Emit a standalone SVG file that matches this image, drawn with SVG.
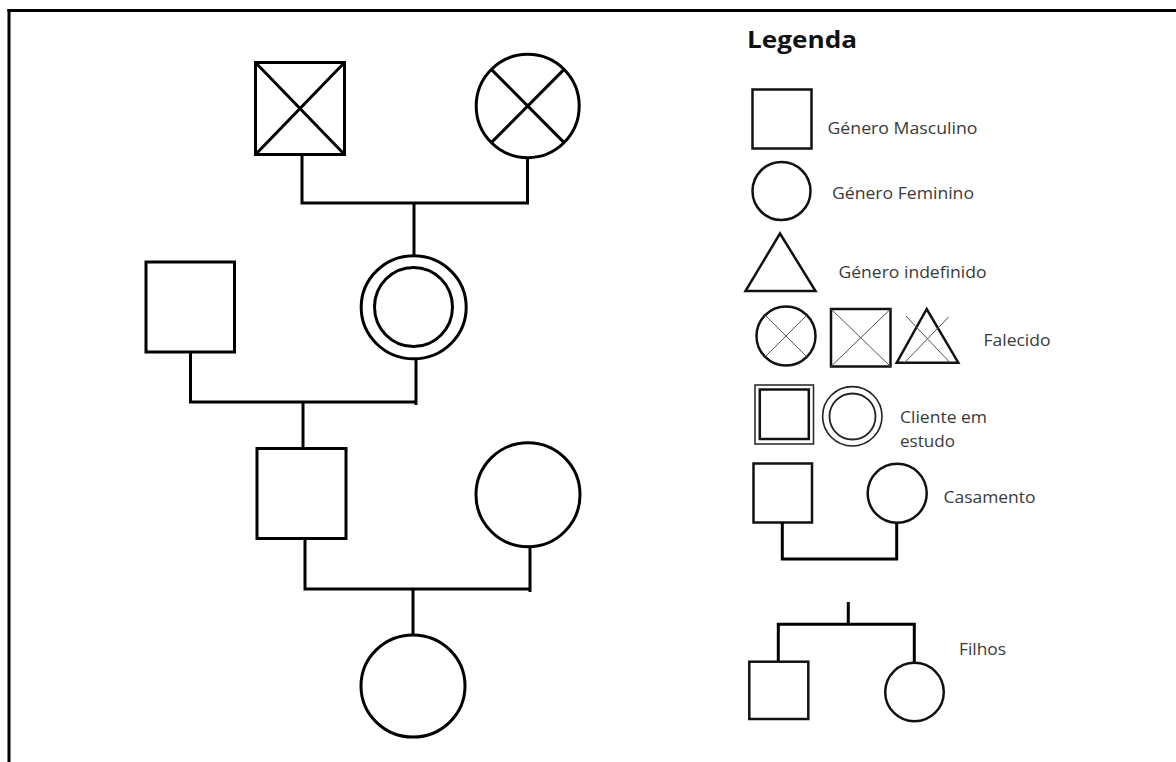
<svg xmlns="http://www.w3.org/2000/svg" width="1176" height="762" viewBox="0 0 1176 762">
  <style>
    .ln { fill: none; stroke: #000; stroke-width: 3; stroke-linejoin: miter; }
    .shape { fill: #fff; stroke: #000; stroke-width: 3; }
    .lg { fill: #fff; stroke: #111; stroke-width: 2.5; }
    .thin { fill: none; stroke: #555; stroke-width: 1; }
    .txt { font-family: "Open Sans", "Liberation Sans", sans-serif; font-size: 16px; fill: #3a3a3a; }
    .title { font-family: "Open Sans", "Liberation Sans", sans-serif; font-size: 23px; font-weight: bold; fill: #111; }
  </style>

  <rect width="1176" height="762" fill="#fff"/>

  <!-- frame -->
  <g id="frame">
    <line x1="7.5" y1="10.5" x2="1176" y2="10.5" stroke="#000" stroke-width="3"/>
    <line x1="9" y1="9" x2="9" y2="762" stroke="#000" stroke-width="3"/>
  </g>

  <!-- family lines -->
  <g id="connectors">
    <path class="ln" d="M302,154 V203 H527.5 V158"/>
    <path class="ln" d="M414,203 V256"/>
    <path class="ln" d="M190.5,352 V402 H416"/>
    <path class="ln" d="M416,359 V405"/>
    <path class="ln" d="M303,402 V448"/>
    <path class="ln" d="M305,538 V589 H530"/>
    <path class="ln" d="M530,547 V592"/>
    <path class="ln" d="M413,589 V635"/>
  </g>

  <!-- grandfather (deceased) -->
  <g id="grandfather">
    <rect class="shape" x="255.5" y="62.5" width="89" height="92"/>
    <path class="ln" d="M255.5,62.5 L344.5,154.5 M344.5,62.5 L255.5,154.5"/>
  </g>

  <!-- grandmother (deceased) -->
  <g id="grandmother">
    <ellipse class="shape" cx="527.7" cy="106" rx="51.5" ry="51.7"/>
    <path class="ln" d="M491.3,69.4 L564.1,142.6 M564.1,69.4 L491.3,142.6"/>
  </g>

  <!-- father -->
  <g id="father">
    <rect class="shape" x="146" y="262" width="88.5" height="90"/>
  </g>

  <!-- mother (client under study) -->
  <g id="mother">
    <ellipse class="shape" cx="413.7" cy="307.3" rx="52.5" ry="51.5"/>
    <ellipse class="shape" cx="413.5" cy="307" rx="39" ry="39.5"/>
  </g>

  <!-- son -->
  <g id="son">
    <rect class="shape" x="257" y="448.5" width="89" height="90"/>
  </g>

  <!-- daughter-in-law -->
  <g id="daughter-in-law">
    <ellipse class="shape" cx="528" cy="494.7" rx="52" ry="52"/>
  </g>

  <!-- grandchild -->
  <g id="grandchild">
    <ellipse class="shape" cx="413" cy="686" rx="52" ry="51"/>
  </g>

  <!-- legend -->
  <g id="legend">
    <text class="title" x="747" y="48" textLength="110" lengthAdjust="spacingAndGlyphs">Legenda</text>

    <g id="legend-male">
      <rect class="lg" x="752.5" y="89.5" width="59" height="59"/>
      <text class="txt" x="827.5" y="134" textLength="150" lengthAdjust="spacingAndGlyphs">Género Masculino</text>
    </g>

    <g id="legend-female">
      <circle class="lg" cx="781.5" cy="191" r="29"/>
      <text class="txt" x="832" y="199" textLength="142" lengthAdjust="spacingAndGlyphs">Género Feminino</text>
    </g>

    <g id="legend-undefined">
      <polygon class="lg" points="780,233.5 745.5,291 815.5,291" stroke-width="1.8"/>
      <text class="txt" x="838.5" y="277.5" textLength="148" lengthAdjust="spacingAndGlyphs">Género indefinido</text>
    </g>

    <g id="legend-deceased">
      <circle class="lg" cx="786" cy="336" r="29.5"/>
      <path class="thin" d="M765.2,315.2 L806.8,356.8 M806.8,315.2 L765.2,356.8"/>
      <rect class="lg" x="831" y="309" width="59.5" height="57.5"/>
      <path class="thin" d="M831,309 L890.5,366.5 M890.5,309 L831,366.5"/>
      <polygon class="lg" points="926.7,309 896.7,362.7 958.3,362.7" stroke-width="2"/>
      <path class="thin" d="M906,316 L950,362.7 M948.5,317 L904.5,362.7"/>
      <text class="txt" x="983.5" y="345.7" textLength="67" lengthAdjust="spacingAndGlyphs">Falecido</text>
    </g>

    <g id="legend-client">
      <rect x="755" y="385" width="58.5" height="59" fill="#fff" stroke="#222" stroke-width="1.5"/>
      <rect x="759.8" y="389.5" width="49" height="49.5" fill="none" stroke="#111" stroke-width="2.5"/>
      <circle cx="852.3" cy="416.3" r="29.7" fill="#fff" stroke="#222" stroke-width="1.6"/>
      <circle cx="852.5" cy="416.5" r="23" fill="none" stroke="#222" stroke-width="1.8"/>
      <text class="txt" x="900" y="422.7" textLength="87" lengthAdjust="spacingAndGlyphs">Cliente em</text>
      <text class="txt" x="900" y="446.5" textLength="55" lengthAdjust="spacingAndGlyphs">estudo</text>
    </g>

    <g id="legend-marriage">
      <rect class="lg" x="753.5" y="463.5" width="58.5" height="59"/>
      <circle class="lg" cx="897.2" cy="493.3" r="29.5"/>
      <path class="ln" d="M782.3,522.5 V559 H896.7 V522.8" stroke-width="2.5"/>
      <text class="txt" x="943.5" y="503.3" textLength="92" lengthAdjust="spacingAndGlyphs" fill="#222">Casamento</text>
    </g>

    <g id="legend-children">
      <path class="ln" d="M848.3,602 V624.3 M778.3,661.7 V624.3 H914.3 V662.7" stroke-width="2.5"/>
      <rect class="lg" x="749.3" y="661.7" width="59" height="57.3"/>
      <circle class="lg" cx="914.5" cy="692" r="29.3"/>
      <text class="txt" x="959" y="655" textLength="47" lengthAdjust="spacingAndGlyphs">Filhos</text>
    </g>
  </g>
</svg>
